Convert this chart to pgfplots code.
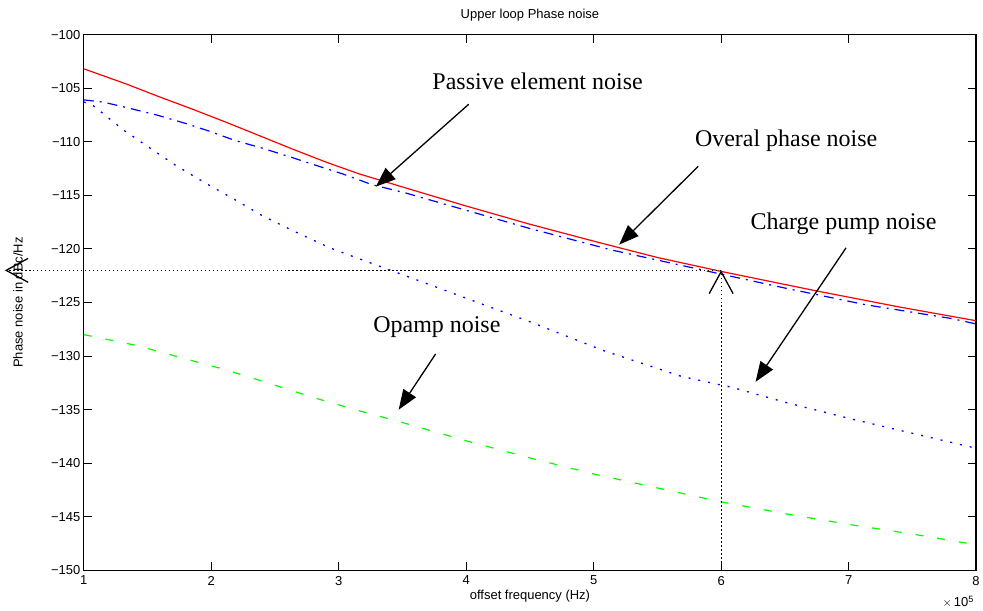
\documentclass[border=0pt]{standalone}
\usepackage{pgfplots}
\pgfplotsset{compat=1.18}
\usepackage{fontspec}
\setmainfont{Liberation Sans}
\newfontfamily\timesf{Liberation Serif}
\usetikzlibrary{arrows.meta}

\pgfplotstableread{
f v
1.00 -103.2
1.33 -104.6
1.59 -105.8
1.86 -107.0
2.12 -108.2
2.37 -109.4
2.64 -110.7
2.90 -111.9
3.16 -113.0
3.55 -114.4
4.00 -116.0
4.50 -117.7
5.04 -119.4
5.50 -120.8
6.00 -122.1
6.74 -123.9
7.39 -125.4
8.00 -126.7
}\overall

\pgfplotstableread{
f v
1.00 -106.1
1.15 -106.3
1.33 -106.8
1.57 -107.5
1.80 -108.3
1.98 -109.0
2.19 -109.9
2.40 -110.6
2.64 -111.5
2.82 -112.2
3.03 -113.0
3.26 -114.0
3.53 -114.8
4.00 -116.4
4.50 -118.1
5.14 -120.1
5.98 -122.3
6.48 -123.6
7.13 -125.2
7.81 -126.5
8.00 -127.0
}\passive

\pgfplotstableread{
f v
1.00 -106.3
1.07 -106.6
1.31 -108.9
1.52 -110.6
1.72 -112.2
1.96 -113.9
2.17 -115.3
2.40 -116.9
2.64 -118.3
2.93 -119.9
3.11 -120.7
3.50 -122.4
4.00 -124.6
4.50 -126.8
5.08 -129.5
5.69 -131.9
6.08 -132.9
6.50 -134.3
7.00 -135.8
7.50 -137.2
7.93 -138.4
8.00 -138.6
}\chargepump

\pgfplotstableread{
f v
1.00 -128.0
1.41 -129.0
1.78 -130.2
2.12 -131.3
2.47 -132.6
2.81 -133.9
3.16 -135.1
3.50 -136.2
4.00 -137.9
4.50 -139.5
5.00 -141.0
5.50 -142.3
6.00 -143.6
6.50 -144.7
7.00 -145.7
7.50 -146.6
8.00 -147.6
}\opamp

\begin{document}
\begin{tikzpicture}[x=1pt,y=1pt]
% frame of the whole picture (983 x 609)
\path (-84,-37.4) rectangle (899,571.6);
\begin{axis}[
  at={(0,0)}, anchor=south west,
  scale only axis, width=894pt, height=537pt,
  xmin=1, xmax=8, ymin=-150, ymax=-100,
  xtick={1,2,3,4,5,6,7,8},
  ytick={-150,-145,-140,-135,-130,-125,-120,-115,-110,-105,-100},
  yticklabels={−150,−145,−140,−135,−130,−125,−120,−115,−110,−105,−100},
  tick align=inside, major tick length=8pt,
  axis line style={line width=1.3pt},
  every tick/.style={line width=1pt, black},
  ticklabel style={font=\fontsize{13}{15}\selectfont},
  xticklabel style={yshift=-2pt},
  /pgf/number format/assume math mode=true,
  clip=false,
]
\addplot[red, line width=1.2pt] table[x=f,y=v] {\overall};
\addplot[blue, line width=1.2pt, dash pattern=on 10pt off 6pt on 2pt off 6pt] table[x=f,y=v] {\passive};
\addplot[blue, line width=1.3pt, dash pattern=on 2pt off 8pt] table[x=f,y=v] {\chargepump};
\addplot[green, line width=1.2pt, dash pattern=on 8pt off 14pt] table[x=f,y=v] {\opamp};

% dotted guide lines
\draw[black, line width=1pt, dash pattern=on 1.5pt off 2.5pt,
  -{Straight Barb[length=22pt,width=24pt,line width=1.3pt]}]
  (axis cs:6,-122) -- (axis cs:0.38,-122);
\draw[black, line width=1pt, dash pattern=on 1.5pt off 2.5pt,
  -{Straight Barb[length=22pt,width=24pt,line width=1.3pt]}]
  (axis cs:6,-150) -- (axis cs:6,-122);

% annotations
\node[font=\timesf\fontsize{24}{26}\selectfont] at (axis cs:4.56,-104.4) {Passive element noise};
\draw[line width=1.3pt, -{Triangle[length=20pt,width=15pt]}] (axis cs:4.02,-106.5) -- (axis cs:3.29,-114.2);
\node[font=\timesf\fontsize{24}{26}\selectfont] at (axis cs:6.51,-109.9) {Overal phase noise};
\draw[line width=1.3pt, -{Triangle[length=20pt,width=15pt]}] (axis cs:5.82,-112.3) -- (axis cs:5.20,-119.6);
\node[font=\timesf\fontsize{24}{26}\selectfont] at (axis cs:6.96,-117.7) {Charge pump noise};
\draw[line width=1.3pt, -{Triangle[length=20pt,width=15pt]}] (axis cs:6.98,-119.9) -- (axis cs:6.27,-132.4);
\node[font=\timesf\fontsize{24}{26}\selectfont] at (axis cs:3.77,-127.3) {Opamp noise};
\draw[line width=1.3pt, -{Triangle[length=20pt,width=15pt]}] (axis cs:3.76,-129.8) -- (axis cs:3.47,-135.0);
\end{axis}
\node[font=\fontsize{13}{15}\selectfont] at (447,556.6) {Upper loop Phase noise};
\node[font=\fontsize{13}{15}\selectfont] at (447,-26) {offset frequency (Hz)};
\node[font=\fontsize{13}{15}\selectfont, rotate=90] at (-66,268.5) {Phase noise in dBc/Hz};
\node[font=\fontsize{13}{15}\selectfont, anchor=base west] at (857,-36) {$\times\,$10\textsuperscript{5}};
\end{tikzpicture}
\end{document}
